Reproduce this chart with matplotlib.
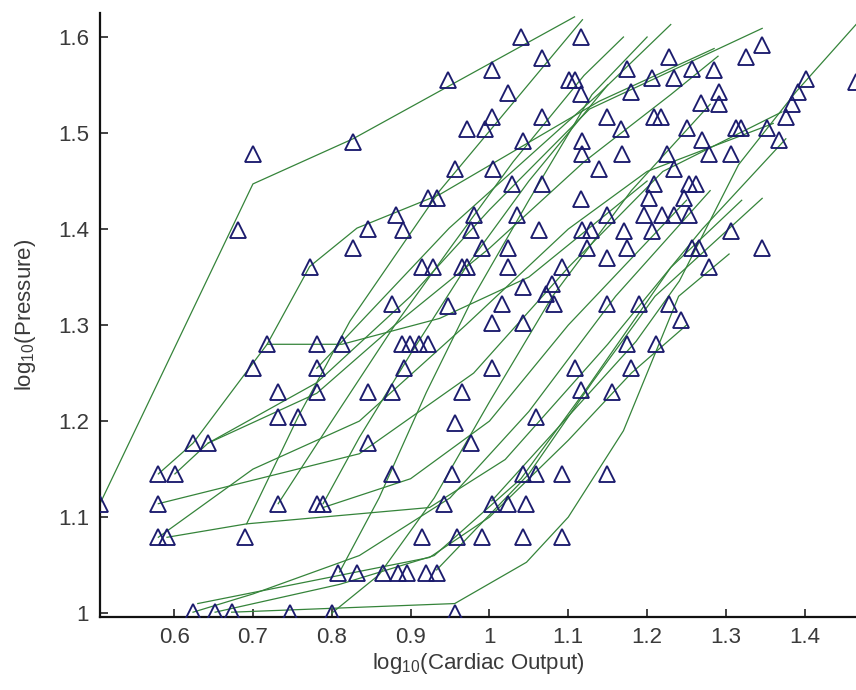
import matplotlib
matplotlib.use("Agg")
import matplotlib.pyplot as plt
from matplotlib.ticker import FormatStrFormatter

plt.rcParams.update({"font.family": "Liberation Sans", "mathtext.default": "regular",
                     "font.size": 16})

# observed points (log10 cardiac output, log10 pressure)
pts_x = [1.040, 1.116, 1.067, 1.003, 0.947, 1.101, 1.109, 1.116, 1.023, 1.003, 0.971, 0.994, 1.067,
         0.827, 1.043, 1.118, 1.118, 0.956, 1.004, 1.028, 1.067, 1.116, 0.922, 0.933, 0.882, 0.846,
         0.890, 0.827, 0.981, 1.035, 0.977, 1.063, 1.118, 1.129, 0.990, 1.023, 1.124, 0.914, 0.928,
         0.965, 0.972, 1.023, 1.092, 1.042, 1.080, 1.072, 0.876, 0.947, 1.016, 1.082,
         0.700, 0.681, 0.772,
         1.346, 1.325, 1.228, 1.175, 1.206, 1.234, 1.257, 1.285, 1.180, 1.291, 1.268, 1.291, 1.149,
         1.209, 1.218, 1.167, 1.250, 1.313, 1.319, 1.352, 1.376, 1.384, 1.392, 1.402, 1.270, 1.367,
         1.278, 1.306, 1.168, 1.139, 1.225, 1.234, 1.209, 1.253, 1.262, 1.203, 1.247, 1.149, 1.196,
         1.219, 1.234, 1.253, 1.171, 1.206, 1.306, 1.175, 1.257, 1.266, 1.346, 1.149, 1.278, 1.149,
         1.190, 1.228, 1.243, 1.175, 1.211, 1.465,
         0.718, 0.781, 0.813, 0.700, 0.781, 0.732, 0.781, 0.732, 0.757, 0.624, 0.643, 0.580, 0.601,
         0.506, 0.580, 0.580, 0.591, 0.690, 0.732, 0.781, 0.789,
         0.624, 0.652, 0.673, 0.747, 0.800, 0.956,
         0.808, 0.832, 0.865, 0.884, 0.895, 0.920, 0.933,
         1.003, 1.042, 0.889, 0.899, 0.911, 0.922, 0.892, 1.003, 1.108, 1.116, 0.846, 0.876, 0.965,
         0.956, 1.059, 0.846, 0.977, 0.876, 0.952, 1.042, 1.059, 1.092, 1.149, 0.943, 1.003, 1.023,
         1.047, 0.915, 0.959, 0.990, 1.042, 1.092, 1.180, 1.156]
pts_y = [1.600, 1.600, 1.578, 1.566, 1.555, 1.555, 1.555, 1.541, 1.542, 1.517, 1.504, 1.504, 1.517,
         1.491, 1.492, 1.492, 1.478, 1.463, 1.463, 1.447, 1.447, 1.431, 1.432, 1.432, 1.415, 1.400,
         1.399, 1.380, 1.415, 1.415, 1.399, 1.399, 1.399, 1.399, 1.380, 1.380, 1.380, 1.361, 1.361,
         1.361, 1.361, 1.361, 1.361, 1.340, 1.343, 1.332, 1.322, 1.320, 1.322, 1.322,
         1.478, 1.399, 1.361,
         1.592, 1.579, 1.579, 1.567, 1.557, 1.557, 1.567, 1.566, 1.543, 1.543, 1.531, 1.530, 1.517,
         1.517, 1.517, 1.504, 1.505, 1.505, 1.505, 1.505, 1.517, 1.530, 1.543, 1.556, 1.493, 1.493,
         1.478, 1.478, 1.478, 1.463, 1.478, 1.463, 1.447, 1.447, 1.447, 1.432, 1.432, 1.415, 1.415,
         1.415, 1.415, 1.415, 1.398, 1.398, 1.398, 1.380, 1.380, 1.380, 1.380, 1.370, 1.361, 1.322,
         1.322, 1.322, 1.305, 1.280, 1.280, 1.553,
         1.280, 1.280, 1.280, 1.255, 1.255, 1.230, 1.230, 1.204, 1.204, 1.177, 1.177, 1.145, 1.145,
         1.114, 1.114, 1.079, 1.079, 1.079, 1.114, 1.114, 1.114,
         1.001, 1.001, 1.001, 1.000, 1.000, 1.000,
         1.042, 1.042, 1.042, 1.042, 1.042, 1.042, 1.042,
         1.302, 1.302, 1.280, 1.280, 1.280, 1.280, 1.255, 1.255, 1.255, 1.232, 1.230, 1.230, 1.230,
         1.198, 1.204, 1.177, 1.177, 1.145, 1.145, 1.145, 1.145, 1.145, 1.145, 1.114, 1.114, 1.114,
         1.114, 1.079, 1.079, 1.079, 1.079, 1.079, 1.255, 1.230]

# fitted piecewise curves, one per subject: (x list, y list)
curves = [
    ([0.506, 0.700, 0.827, 1.108], [1.114, 1.447, 1.494, 1.621]),
    ([0.692, 0.757, 0.823, 0.937, 1.118], [1.093, 1.204, 1.304, 1.440, 1.618]),
    ([0.781, 0.949, 1.139, 1.230], [1.255, 1.401, 1.541, 1.613]),
    ([0.718, 0.772, 0.832, 0.937, 1.139, 1.285], [1.280, 1.361, 1.401, 1.436, 1.533, 1.588]),
    ([0.643, 0.781, 0.900, 1.000, 1.127, 1.346], [1.177, 1.240, 1.330, 1.420, 1.525, 1.609]),
    ([1.003, 1.186, 1.241, 1.316, 1.389, 1.465], [1.117, 1.283, 1.346, 1.467, 1.543, 1.613]),
    ([0.933, 1.050, 1.130, 1.210, 1.346], [1.045, 1.145, 1.240, 1.330, 1.432]),
    ([0.673, 0.956, 1.047, 1.100, 1.170, 1.240, 1.304], [1.001, 1.010, 1.053, 1.100, 1.190, 1.330, 1.374]),
    ([0.580, 0.835, 0.980, 1.100, 1.220, 1.371], [1.114, 1.166, 1.250, 1.360, 1.460, 1.522]),
    ([0.591, 0.692, 0.924, 1.020, 1.150, 1.270, 1.376], [1.079, 1.093, 1.110, 1.160, 1.280, 1.400, 1.494]),
    ([0.580, 0.700, 0.835, 0.970, 1.100, 1.200, 1.360], [1.079, 1.150, 1.200, 1.300, 1.400, 1.460, 1.510]),
    ([0.601, 0.643, 0.781, 0.880, 1.000, 1.120, 1.230, 1.290], [1.145, 1.177, 1.229, 1.300, 1.380, 1.470, 1.540, 1.580]),
    ([0.624, 0.700, 0.835, 0.950, 1.050, 1.160, 1.280], [1.001, 1.020, 1.060, 1.120, 1.210, 1.330, 1.440]),
    ([0.652, 0.810, 0.930, 1.040, 1.120, 1.230, 1.320], [1.001, 1.030, 1.060, 1.140, 1.230, 1.360, 1.430]),
    ([0.800, 0.860, 0.930, 1.000, 1.080, 1.180, 1.280], [1.000, 1.040, 1.120, 1.220, 1.330, 1.440, 1.530]),
    ([0.810, 0.860, 0.920, 0.980, 1.050, 1.130, 1.200], [1.043, 1.120, 1.230, 1.330, 1.430, 1.540, 1.600]),
    ([0.732, 0.800, 0.880, 0.950, 1.030, 1.120, 1.170], [1.114, 1.200, 1.300, 1.380, 1.470, 1.560, 1.600]),
    ([0.789, 0.835, 0.900, 0.970, 1.050, 1.150], [1.114, 1.183, 1.270, 1.360, 1.450, 1.550]),
    ([0.789, 0.900, 1.000, 1.100, 1.250], [1.110, 1.140, 1.200, 1.300, 1.430]),
    ([0.580, 0.624, 0.718, 0.813, 0.937, 1.050, 1.200], [1.145, 1.177, 1.280, 1.280, 1.307, 1.350, 1.450]),
    ([0.630, 0.924, 1.000, 1.100, 1.180, 1.250], [1.010, 1.058, 1.100, 1.180, 1.250, 1.300]),
]

fig = plt.figure(figsize=(8.56, 6.90), dpi=100)
ax = fig.add_axes([100/856, 73/690, 756/856, 604/690])

for cx, cy in curves:
    ax.plot(cx, cy, color="#35843a", lw=0.9, zorder=2)
ax.plot(pts_x, pts_y, ls="none", marker="^", ms=11.5, mfc="none", mec="#1c1c6e", mew=1.35, zorder=3)

ax.set_xlim(0.506, 1.465)
ax.set_ylim(0.996, 1.625)
ax.set_xticks([0.6, 0.7, 0.8, 0.9, 1.0, 1.1, 1.2, 1.3, 1.4])
ax.set_yticks([1.0, 1.1, 1.2, 1.3, 1.4, 1.5, 1.6])
ax.xaxis.set_major_formatter(FormatStrFormatter("%g"))
ax.yaxis.set_major_formatter(FormatStrFormatter("%g"))
ax.tick_params(direction="in", length=6, width=1.2, colors="#222222", labelcolor="#3a3a3a",
               labelsize=16, top=False, right=False)
ax.tick_params(axis="y", pad=8)
ax.tick_params(axis="x", pad=7)
for s in ("top", "right"):
    ax.spines[s].set_visible(False)
for s in ("left", "bottom"):
    ax.spines[s].set_linewidth(1.6)
    ax.spines[s].set_color("#111111")

ax.set_xlabel("log$_{10}$(Cardiac Output)", fontsize=16, color="#3a3a3a", labelpad=2)
ax.set_ylabel("log$_{10}$(Pressure)", fontsize=16, color="#3a3a3a", labelpad=14)

fig.savefig("out.png", dpi=100)
